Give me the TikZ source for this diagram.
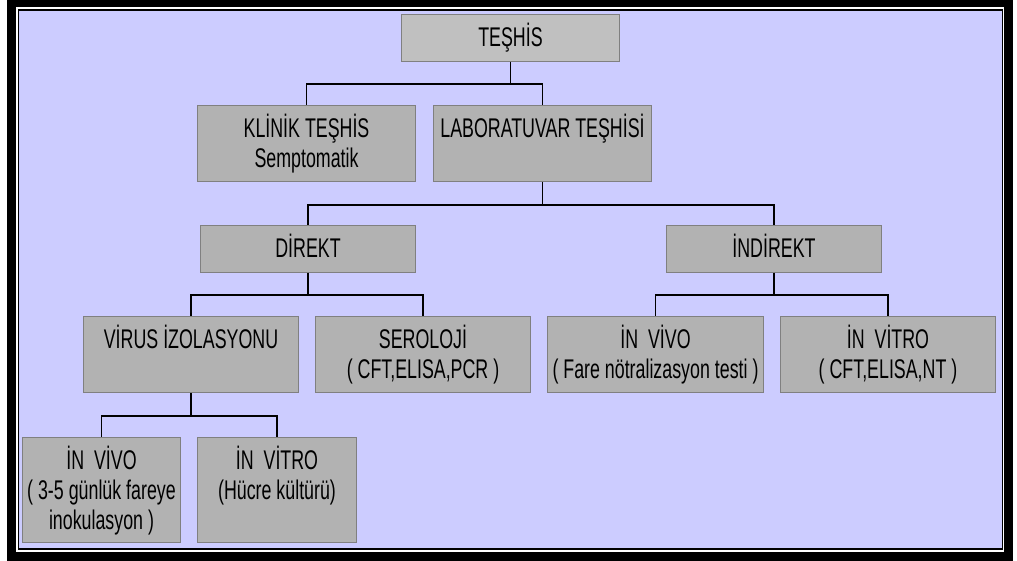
\documentclass[tikz,border=0pt]{standalone}
\usepackage{fontspec}
\setmainfont{Liberation Sans}[FakeStretch=0.66]

\definecolor{lavanta}{RGB}{204,204,255}
\definecolor{grikutu}{RGB}{178,178,178}
\definecolor{acikgri}{RGB}{192,192,192}
\definecolor{kenar}{RGB}{128,128,128}

% text block of a box: width, height, lines
\newcommand{\yazi}[3]{\parbox[t][#2pt][t]{#1pt}{\centering\rule{0pt}{32pt}#3}}

\tikzset{
  kutu/.style={draw=kenar, line width=1pt, fill=grikutu, inner sep=0pt,
    anchor=north west, font=\fontsize{27}{30}\selectfont},
  hat/.style={draw=black, line width=1.6pt}
}

\begin{document}
\begin{tikzpicture}[x=1pt,y=-1pt]
    \useasboundingbox (0,0) rectangle (1017,561);
    % frame
    \fill[black] (7,0) rectangle (1013,561);
    \fill[white] (15.5,7.5) rectangle (1004,551.5);
    \fill[black] (17.5,9.5) rectangle (1002.5,549.5);
    \fill[lavanta] (19,11) rectangle (1001.5,548);

    \node[kutu, fill=acikgri] (teshis) at (401,14) {\yazi{218}{47}{TEŞHİS}};
    \node[kutu] (klinik) at (197,105) {\yazi{218}{76}{KLİNİK TEŞHİS\\Semptomatik}};
    \node[kutu] (lab) at (433,105) {\yazi{218}{76}{LABORATUVAR TEŞHİSİ}};
    \node[kutu] (direkt) at (200,225) {\yazi{215}{47}{DİREKT}};
    \node[kutu] (indirekt) at (666,225) {\yazi{215}{47}{İNDİREKT}};
    \node[kutu] (virus) at (83,316) {\yazi{215}{76}{VİRUS İZOLASYONU}};
    \node[kutu] (seroloji) at (315,316) {\yazi{215}{76}{SEROLOJİ\\( CFT,ELISA,PCR )}};
    \node[kutu] (invivo) at (547,316) {\yazi{216}{76}{İN~~VİVO\\( Fare nötralizasyon testi )}};
    \node[kutu] (invitro) at (780,316) {\yazi{215}{76}{İN~~VİTRO\\( CFT,ELISA,NT )}};
    \node[kutu] (hvivo) at (22,437) {\yazi{158}{105}{İN~~VİVO\\( 3-5 günlük fareye\\inokulasyon )}};
    \node[kutu] (hvitro) at (197,437) {\yazi{159}{105}{İN~~VİTRO\\(Hücre kültürü)}};

    \draw[hat] (teshis.south) -- ++(0,22) -| (klinik.north);
    \draw[hat] (teshis.south) -- ++(0,22) -| (lab.north);
    \draw[hat] (lab.south) -- ++(0,23) -| (direkt.north);
    \draw[hat] (lab.south) -- ++(0,23) -| (indirekt.north);
    \draw[hat] (direkt.south) -- ++(0,22) -| (virus.north);
    \draw[hat] (direkt.south) -- ++(0,22) -| (seroloji.north);
    \draw[hat] (indirekt.south) -- ++(0,22) -| (invivo.north);
    \draw[hat] (indirekt.south) -- ++(0,22) -| (invitro.north);
    \draw[hat] (virus.south) -- ++(0,23) -| (hvivo.north);
    \draw[hat] (virus.south) -- ++(0,23) -| (hvitro.north);
\end{tikzpicture}
\end{document}
